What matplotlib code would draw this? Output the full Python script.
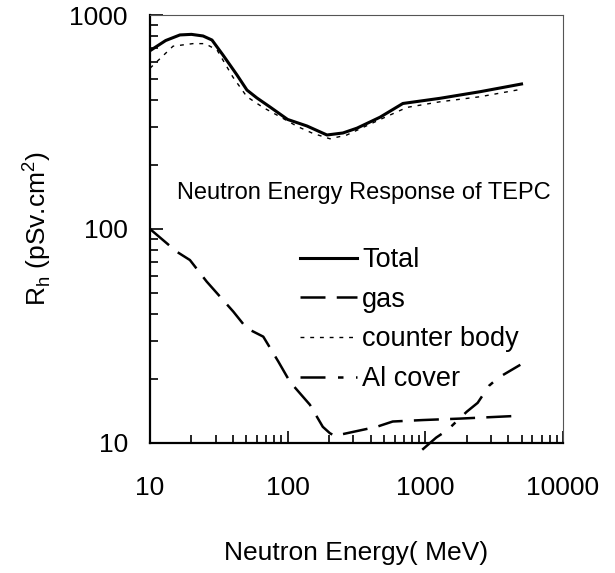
import matplotlib
matplotlib.use('Agg')
import matplotlib.pyplot as plt
from matplotlib.ticker import FixedLocator, FixedFormatter, LogLocator, NullFormatter

plt.rcParams['font.family'] = ['Liberation Sans', 'DejaVu Sans']

# Total response
total_e = [10, 13, 16.5, 20, 24.3, 28.2, 33.9, 42.8, 50.6, 59.7, 74.3, 100, 138, 193, 252, 319, 469, 687, 1276, 2493, 5000]
total_r = [681, 760, 807, 812, 798, 764, 650, 525, 446, 410, 372, 325, 303, 275, 281, 296, 333, 386, 408, 438, 476]

# counter body
body_e = [10, 14.7, 20.5, 25.1, 30.7, 40, 50.6, 66.2, 87.8, 117, 152, 203, 269, 470, 735, 1276, 2493, 5000]
body_r = [564, 715, 735, 735, 686, 513, 415, 370, 335, 302, 280, 264, 275, 325, 370, 393, 415, 450]

# gas
gas_e = [10, 15.6, 19.5, 25.8, 40.3, 50.3, 66.5, 85.6, 104, 145, 180, 203, 220, 443, 580, 960, 1780, 4800]
gas_r = [100, 78.4, 71.6, 56.8, 41.1, 34.4, 31.4, 24.0, 19.3, 15.1, 11.9, 11.1, 10.8, 11.9, 12.6, 12.8, 13.0, 13.4]

# Al cover
al_e = [950, 1200, 1450, 2000, 2400, 2900, 3400, 4900]
al_r = [9.3, 10.6, 11.5, 14.0, 15.4, 18.5, 20.2, 23.2]

xticks = [10, 100, 1000, 10000]
xtick_labels = ['10', '100', '1000', '10000']
yticks = [10, 100, 1000]
ytick_labels = ['10', '100', '1000']

fig = plt.figure(figsize=(6.15, 5.73), dpi=100)
ax = fig.add_axes([0.2439, 0.2269, 0.6715, 0.7469])

ax.plot(total_e, total_r, color='black', lw=2.2, label='Total')
ax.plot(gas_e, gas_r, color='black', lw=1.8, dashes=(10, 4.5), label='gas')
ax.plot(body_e, body_r, color='black', lw=1.0, dashes=(2.8, 4.2), label='counter body')
ax.plot(al_e, al_r, color='black', lw=1.8, dashes=(10, 5, 2.2, 5), label='Al cover', clip_on=False)

ax.set_xscale('log')
ax.set_yscale('log')
ax.set_xlim(10, 10000)
ax.set_ylim(10, 1000)

ax.xaxis.set_major_locator(FixedLocator(xticks))
ax.xaxis.set_major_formatter(FixedFormatter(xtick_labels))
ax.yaxis.set_major_locator(FixedLocator(yticks))
ax.yaxis.set_major_formatter(FixedFormatter(ytick_labels))
ax.xaxis.set_minor_locator(LogLocator(base=10, subs=range(2, 10)))
ax.yaxis.set_minor_locator(LogLocator(base=10, subs=range(2, 10)))
ax.xaxis.set_minor_formatter(NullFormatter())
ax.yaxis.set_minor_formatter(NullFormatter())

ax.tick_params(which='both', direction='in', top=False, right=False, width=1.2, labelsize=19)
ax.tick_params(which='major', length=9)
ax.tick_params(which='minor', length=6)
ax.tick_params(axis='x', pad=23.5)
ax.tick_params(axis='y', pad=16)

for s in ['left', 'bottom']:
    ax.spines[s].set_linewidth(1.6)
for s in ['top', 'right']:
    ax.spines[s].set_linewidth(0.8)
    ax.spines[s].set_color('#555555')

ax.set_xlabel('Neutron Energy( MeV)', fontsize=19, labelpad=30)
ax.set_ylabel(r'R$_\mathregular{h}$ (pSv.cm$^\mathregular{2}$)', fontsize=19, labelpad=12)

ax.text(0.969, 0.584, 'Neutron Energy Response of TEPC', transform=ax.transAxes,
        ha='right', va='center', fontsize=17)

ax.legend(loc='upper left', bbox_to_anchor=(0.363, 0.457), frameon=False, fontsize=19.5,
          handlelength=2.1, handletextpad=0.2, borderpad=0, borderaxespad=0, labelspacing=0.5)

fig.savefig('out.png', dpi=100)
